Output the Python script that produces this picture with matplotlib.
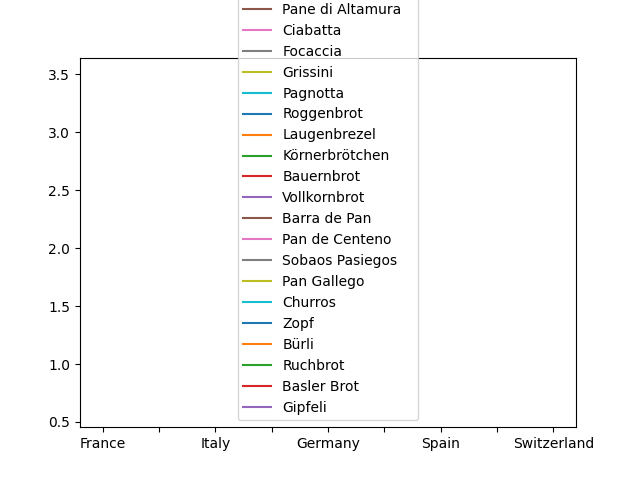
import numpy as np
import matplotlib.pyplot as plt

countries = ["France", "Italy", "Germany", "Spain", "Switzerland"]
breads = [
    "Baguette", "Croissant", "Pain de Campagne", "Brioche", "Fougasse",
    "Pane di Altamura", "Ciabatta", "Focaccia", "Grissini", "Pagnotta",
    "Roggenbrot", "Laugenbrezel", "Körnerbrötchen", "Bauernbrot", "Vollkornbrot",
    "Barra de Pan", "Pan de Centeno", "Sobaos Pasiegos", "Pan Gallego", "Churros",
    "Zopf", "Bürli", "Ruchbrot", "Basler Brot", "Gipfeli",
]
# each bread only has a value for its own country
bread_country = [c for c in countries for _ in range(5)]
values = [1.2, 2.5, 3.1, 0.9, 1.8,
          2.2, 3.5, 1.4, 0.6, 2.8,
          1.9, 3.0, 2.4, 1.1, 2.7,
          0.8, 1.6, 3.3, 2.0, 1.3,
          2.9, 1.5, 0.7, 3.2, 2.3]

fig, ax = plt.subplots(figsize=(6.4, 4.8), dpi=100)
x = np.arange(len(countries))
for name, c, v in zip(breads, bread_country, values):
    y = [v if k == c else np.nan for k in countries]
    ax.plot(x, y, label=name)

ax.set_xticks(np.arange(0, 4.01, 0.5))
ax.set_xticklabels([countries[int(t)] if t == int(t) else "" for t in np.arange(0, 4.01, 0.5)])
ax.set_xlim(-0.2, 4.2)
ax.set_ylim(0.455, 3.645)
ax.legend(loc="lower center")

plt.savefig("out.png")
